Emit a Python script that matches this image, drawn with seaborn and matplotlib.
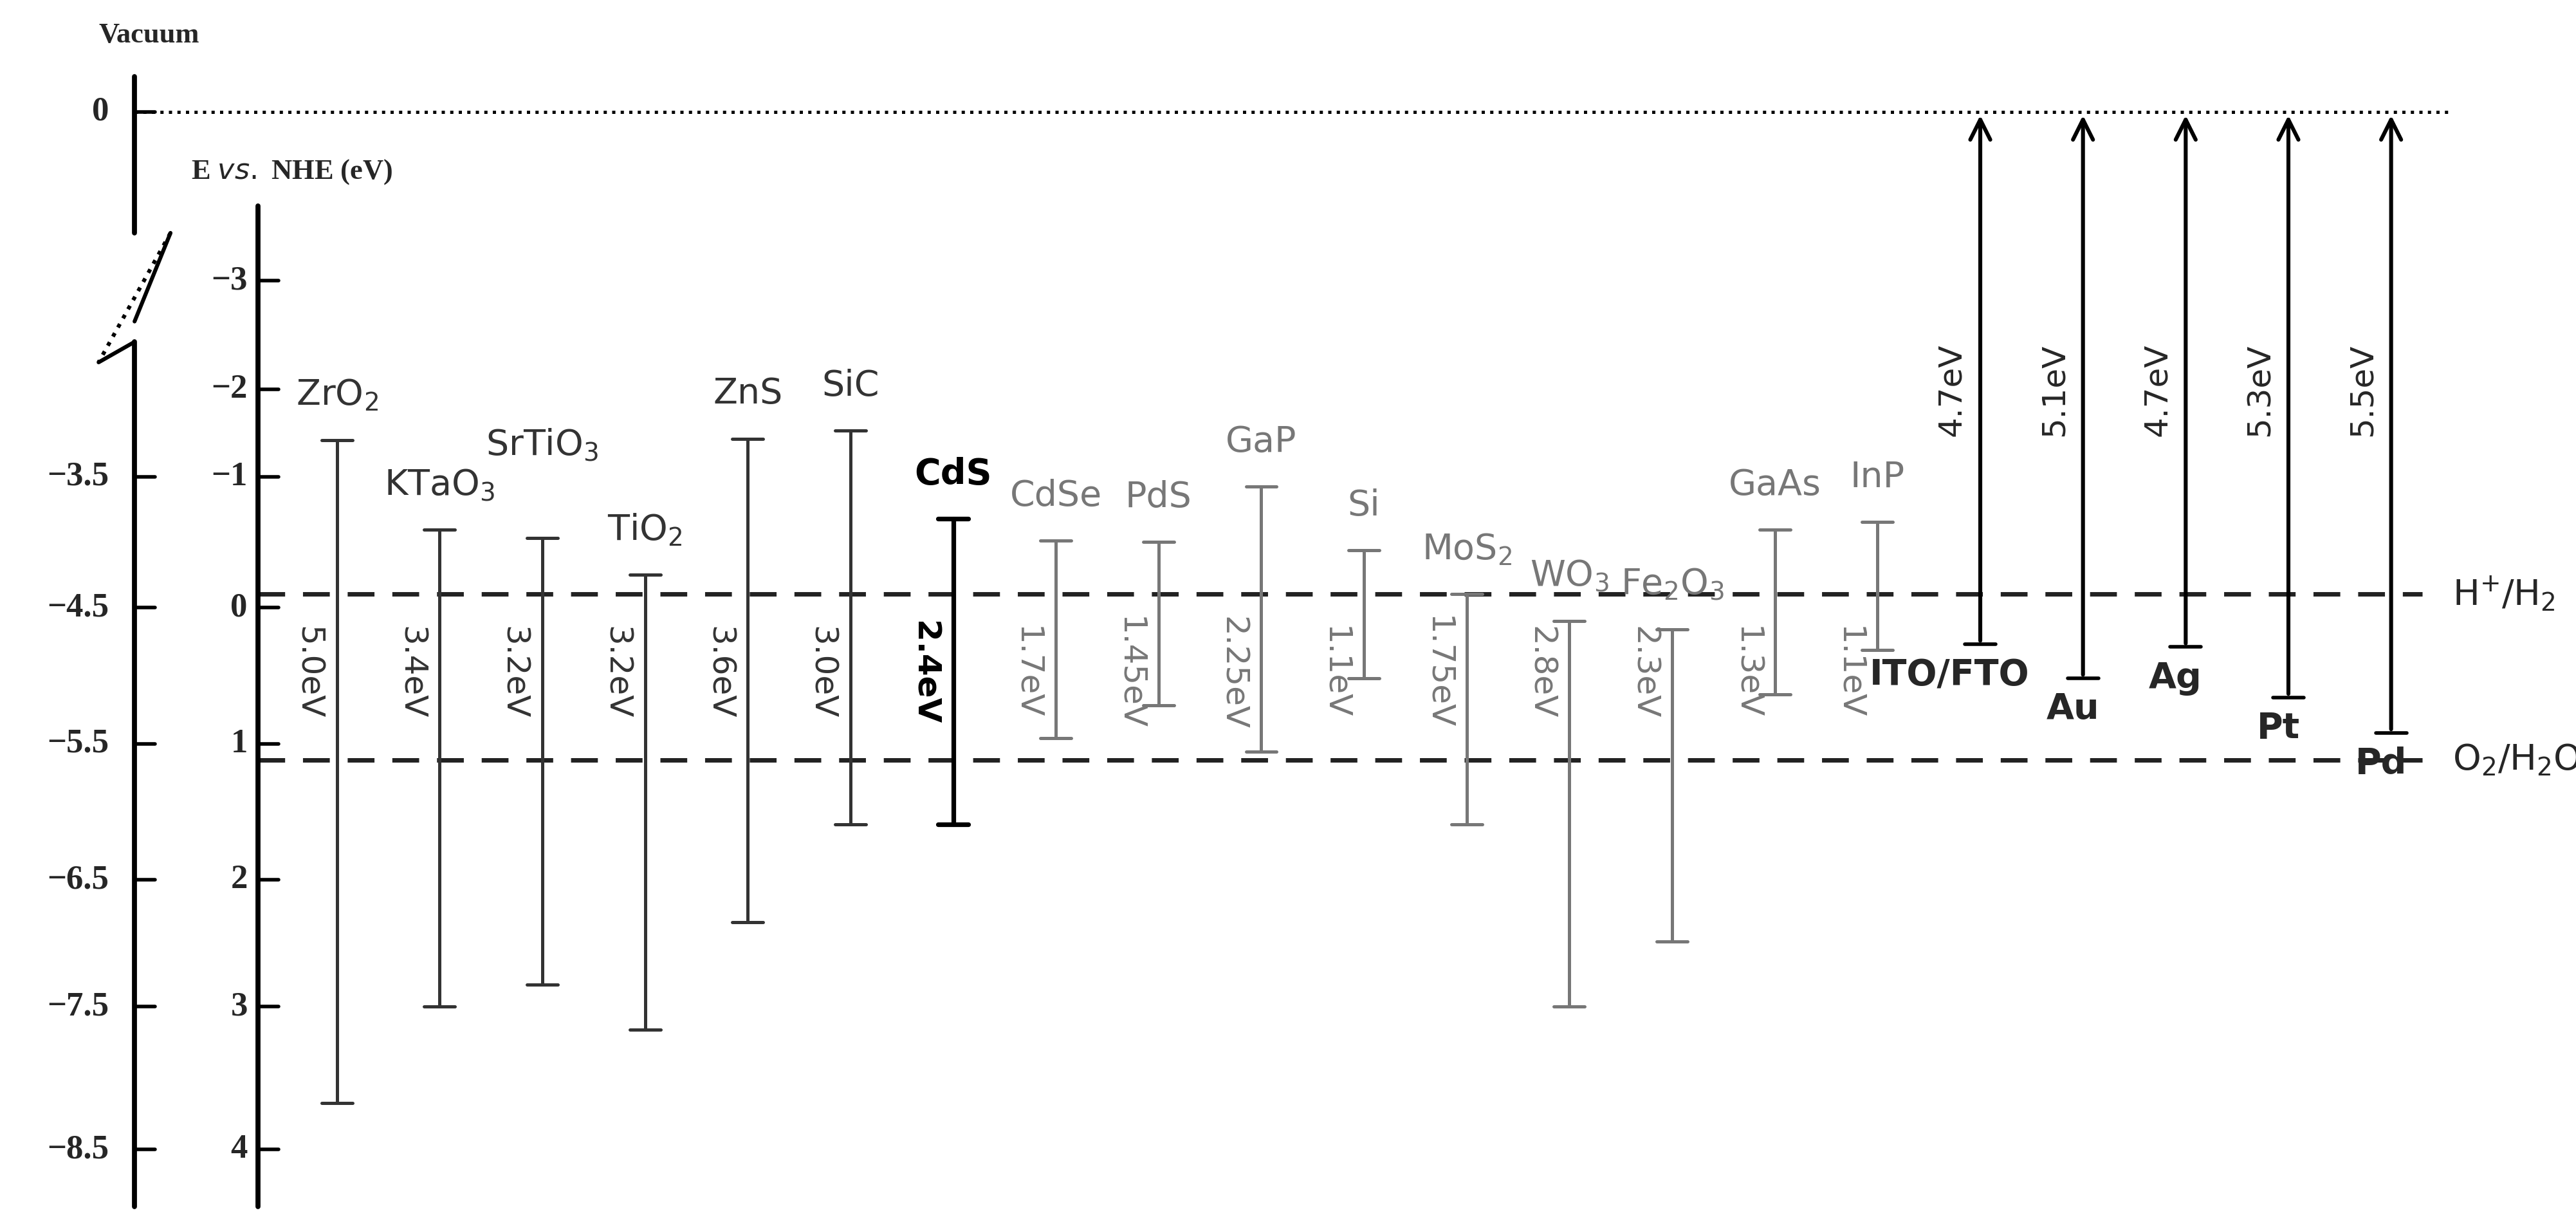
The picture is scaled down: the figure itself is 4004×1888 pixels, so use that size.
import numpy as np
import seaborn as sns
import matplotlib.pyplot as plt

semi_names = ['ZrO$_2$', 'KTaO$_3$', 'SrTiO$_3$', 'TiO$_2$', 'ZnS', 'SiC', 'CdS', 'CdSe', 'PdS', 'GaP',
              'Si', 'MoS$_2$', 'WO$_3$', 'Fe$_2$O$_3$', 'GaAs', 'InP']
semi_cb = [-1.23, -0.57, -0.51, -0.24, -1.24, -1.30, -0.65, -0.49, -0.48, -0.89,
           -0.42, -0.10, 0.10, 0.16, -0.57, -0.63]
semi_vb = [3.64, 2.93, 2.77, 3.10, 2.31, 1.59, 1.59, 0.96, 0.72, 1.06,
           0.52, 1.59, 2.93, 2.45, 0.64, 0.31]
semi_gap = ['5.0eV', '3.4eV', '3.2eV', '3.2eV', '3.6eV', '3.0eV', '2.4eV', '1.7eV', '1.45eV', '2.25eV',
            '1.1eV', '1.75eV', '2.8eV', '2.3eV', '1.3eV', '1.1eV']
semi_color = ['#333333'] * 6 + ['#000000'] + ['#777777'] * 9

metal_names = ['ITO/FTO', 'Au', 'Ag', 'Pt', 'Pd']
metal_wf = ['4.7eV', '5.1eV', '4.7eV', '5.3eV', '5.5eV']
metal_level = [0.27, 0.52, 0.29, 0.66, 0.92]

vac_level = -3.64
h2_level = -0.10
o2_level = 1.12
nhe_ticks = [-2.4, -1.6, -0.96, 0, 1, 2, 2.93, 3.98]
nhe_labels = ['\u22123', '\u22122', '\u22121', '0', '1', '2', '3', '4']
vac_ticks = [-0.96, 0, 1, 2, 2.93, 3.98]
vac_labels = ['\u22123.5', '\u22124.5', '\u22125.5', '\u22126.5', '\u22127.5', '\u22128.5']

sns.set_theme(style="white")
plt.rcParams['font.family'] = ['DejaVu Sans']
fig = plt.figure(figsize=(20.02, 9.44), dpi=200)
ax = fig.add_axes([0, 0, 1, 1])
ax.set_xlim(-3.28, 21.8)
ax.set_ylim(4.46, -4.46)
ax.axis('off')

serif = 'Liberation Serif'
x_vac, x_nhe = -1.97, -0.77
cap = 0.15
fs_tick = 19
fs_name = 20
fs_gap = 18

# reference lines
ax.plot([x_vac, 20.6], [vac_level, vac_level], ls=':', color='black', lw=1.8)
ax.plot([x_nhe, 20.3], [h2_level, h2_level], ls=(0, (6, 4)), color='#222222', lw=2.5)
ax.plot([x_nhe, 20.3], [o2_level, o2_level], ls=(0, (6, 4)), color='#222222', lw=2.5)
ax.text(20.6, h2_level, 'H$^{+}$/H$_2$', fontsize=fs_name, va='center')
ax.text(20.6, o2_level, 'O$_2$/H$_2$O', fontsize=fs_name, va='center')

# vacuum axis with break
ax.plot([x_vac, x_vac], [-3.9, -2.75], color='black', lw=2.8)
ax.plot([x_vac, x_vac + 0.35], [-2.1, -2.75], color='black', lw=2.2)
ax.plot([x_vac + 0.35, x_vac - 0.35], [-2.75, -1.8], color='black', lw=2.2, ls=':')
ax.plot([x_vac - 0.35, x_vac], [-1.8, -1.95], color='black', lw=2.2)
ax.plot([x_vac, x_vac], [-1.95, 4.4], color='black', lw=2.8)
ax.plot([x_vac, x_vac + 0.2], [vac_level, vac_level], color='black', lw=2)
ax.text(x_vac - 0.25, vac_level, '0', fontsize=fs_tick, fontweight='bold', family=serif, ha='right', va='center')
ax.text(x_vac - 0.35, -4.2, 'Vacuum', fontsize=16, fontweight='bold', family=serif, ha='left', va='center')
for t, l in zip(vac_ticks, vac_labels):
    ax.plot([x_vac, x_vac + 0.2], [t, t], color='black', lw=2)
    ax.text(x_vac - 0.25, t, l, fontsize=fs_tick, fontweight='bold', family=serif, ha='right', va='center')

# NHE axis
ax.plot([x_nhe, x_nhe], [-2.95, 4.4], color='black', lw=2.8)
ax.text(x_nhe - 0.65, -3.2, 'E $\\it{vs.}$ NHE (eV)', fontsize=16, fontweight='bold', family=serif, ha='left', va='center')
for t, l in zip(nhe_ticks, nhe_labels):
    ax.plot([x_nhe, x_nhe + 0.2], [t, t], color='black', lw=2)
    ax.text(x_nhe - 0.1, t, l, fontsize=fs_tick, fontweight='bold', family=serif, ha='right', va='center')

# semiconductor band edges
for i, (n, cb, vb, g, c) in enumerate(zip(semi_names, semi_cb, semi_vb, semi_gap, semi_color)):
    bold = 'bold' if n == 'CdS' else 'normal'
    lw = 2.6 if n == 'CdS' else 1.8
    ax.plot([i, i], [cb, vb], color=c, lw=lw)
    ax.plot([i - cap, i + cap], [cb, cb], color=c, lw=lw)
    ax.plot([i - cap, i + cap], [vb, vb], color=c, lw=lw)
    ax.text(i - 0.28, 0.48, g, rotation=270, fontsize=fs_gap, color=c, fontweight=bold, ha='center', va='center')
    dy = -0.55 if n == 'SrTiO$_3$' else -0.2
    ax.text(i, cb + dy, n, fontsize=fs_name, color=c, fontweight=bold, ha='center', va='bottom')

# metal work functions
for j, (n, w, lv) in enumerate(zip(metal_names, metal_wf, metal_level)):
    x = len(semi_names) + j
    ax.annotate('', xy=(x, vac_level), xytext=(x, lv),
                arrowprops=dict(arrowstyle='->', color='black', lw=2.2, mutation_scale=28))
    ax.plot([x - cap, x + cap], [lv, lv], color='black', lw=2)
    ax.text(x - 0.28, -1.6, w, rotation=90, fontsize=fs_gap, ha='center', va='center')
    ax.text(x - (0.3 if j == 0 else 0.1), lv + 0.1, n, fontsize=fs_name, fontweight='bold', ha='center', va='top')

fig.savefig('out.png', dpi=200)
